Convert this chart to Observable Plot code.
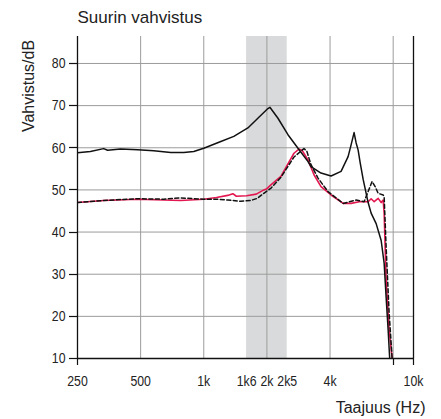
<!DOCTYPE html>
<html>
<head>
<meta charset="utf-8">
<script src="https://cdn.jsdelivr.net/npm/d3@7"></script>
<script src="https://cdn.jsdelivr.net/npm/@observablehq/plot@0.6"></script>
<style>
  html, body { margin: 0; padding: 0; background: #fff; }
</style>
</head>
<body>
<div id="chart"></div>
<script>
// ---- data ----
const titleText = "Suurin vahvistus";
const yLabel = "Vahvistus/dB";
const xLabel = "Taajuus (Hz)";

const xTickValues = [250, 500, 1000, 1600, 2000, 2500, 4000, 8000, 10000];
const xTickLabels = ["250", "500", "1k", "1k6", "2k", "2k5", "4k", "8k", "10k"];
const xGridValues = [500, 1000, 2000, 4000, 8000];
const xTickMarks = [250, 8000, 10000];
const yTickValues = [10, 20, 30, 40, 50, 60, 70, 80];
const yGridValues = [20, 30, 40, 50, 60, 70, 80];
const bandStart = [1600];
const bandEnd = [2500];

const solidFreq = [250, 288, 333, 348, 401, 484, 577, 696, 803, 896, 1000, 1206, 1391, 1623, 1811, 2022, 2067, 2258, 2520, 2813, 3141, 3245, 3622, 4045, 4515, 4877, 5040, 5208, 5324, 5443, 5570, 5754, 6077, 6280, 6636, 7012, 7245, 7405, 7571, 7700];
const solidDb   = [58.8, 59.1, 59.8, 59.4, 59.7, 59.5, 59.3, 58.9, 58.9, 59.1, 59.9, 61.5, 62.7, 64.7, 67.0, 69.3, 69.6, 67.0, 63.1, 59.9, 56.7, 55.5, 54.0, 53.3, 54.4, 57.9, 60.7, 63.6, 61.2, 59.5, 56.4, 52.5, 47.0, 44.5, 42.0, 38.0, 32.6, 24.5, 16.7, 10];

const redFreq = [250, 333, 484, 644, 776, 1000, 1150, 1300, 1376, 1430, 1600, 1780, 1934, 2000, 2089, 2333, 2692, 2844, 2950, 3141, 3354, 3622, 4045, 4620, 5040, 5506, 6077, 6280, 6492, 6783, 7012, 7166, 7245, 7405, 7655, 7910];
const redDb   = [47.0, 47.5, 47.8, 47.6, 47.5, 47.8, 48.2, 48.7, 49.1, 48.5, 48.6, 49.0, 50.0, 50.3, 51.2, 53.2, 58.7, 59.7, 59.3, 57.1, 53.6, 50.8, 48.8, 46.8, 46.8, 47.2, 47.2, 47.9, 47.2, 48.0, 47.0, 47.6, 44.5, 28.6, 16.7, 10];

const dashFreq = [250, 333, 484, 644, 776, 1000, 1142, 1302, 1502, 1677, 1800, 1934, 2100, 2333, 2692, 3004, 3100, 3245, 3505, 3913, 4620, 5324, 5815, 6077, 6350, 6562, 6783, 7166, 7245, 7405, 7655, 7910];
const dashDb   = [47.0, 47.5, 47.9, 47.8, 48.1, 47.8, 47.8, 47.6, 47.3, 47.5, 48.0, 49.2, 50.5, 53.0, 57.8, 59.8, 59.2, 56.0, 52.8, 49.6, 46.8, 47.6, 47.2, 49.6, 52.0, 50.8, 49.2, 48.8, 48.4, 36.4, 20.7, 10];

// ---- build tables ----
const toRows = (fs, vs) => fs.map((f, i) => ({f, v: vs[i]}));
const solid = toRows(solidFreq, solidDb);
const red = toRows(redFreq, redDb);
const dash = toRows(dashFreq, dashDb);
const band = bandStart.map((a, i) => ({a, b: bandEnd[i]}));
const labelOf = new Map(xTickValues.map((v, i) => [v, xTickLabels[i]]));

const sansFont = "'Liberation Sans', Arial, sans-serif";
const yTickLen = 8, xTickLen = 7;

const chart = Plot.plot({
  width: 441,
  height: 419,
  marginLeft: 77,
  marginRight: 28,
  marginTop: 36,
  marginBottom: 61,
  style: {fontFamily: sansFont, fontSize: "15px", color: "#111", background: "#fff"},
  x: {type: "log", domain: [250, 10000]},
  y: {domain: [10, 86.4]},
  marks: [
    Plot.rect(band, {x1: "a", x2: "b", fill: "#d9dadb"}),
    Plot.ruleX(xGridValues, {stroke: "#9c9c9c", strokeWidth: 1}),
    Plot.ruleY(yGridValues, {stroke: "#9c9c9c", strokeWidth: 1}),
    Plot.line(red, {x: "f", y: "v", stroke: "#e3174f", strokeWidth: 1.6, clip: true}),
    Plot.line(dash, {x: "f", y: "v", stroke: "#111", strokeWidth: 1.5, strokeDasharray: "4,2.5", clip: true}),
    Plot.line(solid, {x: "f", y: "v", stroke: "#111", strokeWidth: 1.5, clip: true}),
    Plot.ruleX([250], {stroke: "#111", strokeWidth: 1.3}),
    Plot.ruleX([10000], {stroke: "#111", strokeWidth: 1.3}),
    Plot.ruleY([10], {stroke: "#111", strokeWidth: 1.3}),
    Plot.axisY({ticks: yTickValues, tickSize: 0, tickPadding: 12, label: null, fontSize: 15, fill: "#222"}),
    Plot.axisX({ticks: xTickValues, tickSize: 0, tickPadding: 17, tickFormat: d => labelOf.get(d), label: null, fontSize: 15, fill: "#222"}),
    Plot.text([titleText], {text: d => d, frameAnchor: "top-left", textAnchor: "start", lineAnchor: "bottom", dy: -13.5, fontSize: 17, fill: "#222"}),
    Plot.text([yLabel], {text: d => d, frameAnchor: "top-left", textAnchor: "middle", lineAnchor: "bottom", rotate: -90, dx: -43.5, dy: 49.5, fontSize: 16, fill: "#222"}),
    Plot.text([xLabel], {text: d => d, frameAnchor: "bottom-right", textAnchor: "end", lineAnchor: "bottom", dx: 12, dy: 54.7, fontSize: 16, fill: "#222"})
  ]
});

document.getElementById("chart").appendChild(chart);

// outward tick marks, positioned with the plot's own scales
const xs = chart.scale("x"), ys = chart.scale("y");
const svg = d3.select(chart);
const x0 = xs.apply(250), y0 = ys.apply(10);
const tg = svg.append("g").attr("aria-label", "tick marks").attr("stroke", "#111").attr("stroke-width", 1.2);
tg.selectAll("line.yt").data(yTickValues).join("line").attr("class", "yt")
  .attr("x1", x0 - yTickLen).attr("x2", x0)
  .attr("y1", d => Math.round(ys.apply(d)) + 0.5).attr("y2", d => Math.round(ys.apply(d)) + 0.5);
tg.selectAll("line.xt").data(xTickMarks).join("line").attr("class", "xt")
  .attr("x1", d => Math.round(xs.apply(d)) + 0.5).attr("x2", d => Math.round(xs.apply(d)) + 0.5)
  .attr("y1", y0).attr("y2", y0 + xTickLen);

// condensed look for tick labels: compress glyphs to 82% of their natural width
svg.selectAll('g[aria-label="x-axis tick label"] text, g[aria-label="y-axis tick label"] text').each(function() {
  const w = this.getComputedTextLength();
  if (w > 0) {
    this.setAttribute("textLength", (w * 0.82).toFixed(2));
    this.setAttribute("lengthAdjust", "spacingAndGlyphs");
  }
});
</script>
</body>
</html>
